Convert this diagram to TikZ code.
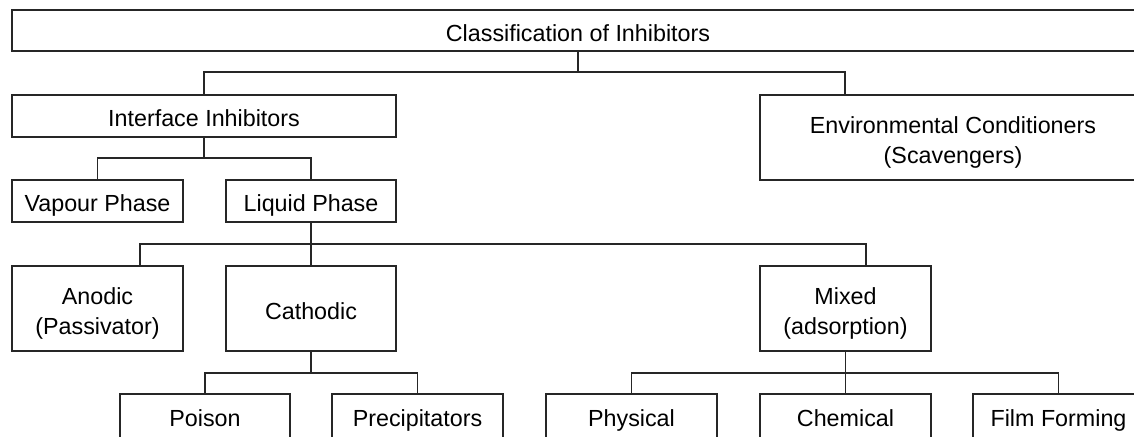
\documentclass[tikz,border=0pt]{standalone}
\usepackage{fontspec}
\setmainfont{Liberation Sans}
\begin{document}
\begin{tikzpicture}[x=1pt,y=-1pt,
  box/.style={draw=black!85,line width=1.5pt,rectangle,inner sep=0pt,align=center,
    text height=21.5pt,text depth=0pt,
    font=\fontsize{23.3}{30}\selectfont},
  twobox/.style={box,text height=51pt,minimum height=85},
  lowbox/.style={box,text depth=10pt,minimum height=52.5},
  conn/.style={draw=black!85,line width=1.4pt}]
\useasboundingbox (0,0) rectangle (1134,436);
% boxes
\node[box,minimum width=1132,minimum height=41] (title) at (578,30.5) {Classification of Inhibitors};
\node[box,minimum width=384,minimum height=42] (iface) at (204,116) {Interface Inhibitors};
\node[twobox,minimum width=386] (env) at (953,137.5) {Environmental Conditioners\\(Scavengers)};
\node[box,minimum width=171,minimum height=42] (vap) at (97.5,201) {Vapour Phase};
\node[box,minimum width=170,minimum height=42] (liq) at (311,201) {Liquid Phase};
\node[twobox,minimum width=171] (anod) at (97.5,308.5) {Anodic\\(Passivator)};
\node[box,minimum width=170,minimum height=85] (cath) at (311,308.5) {Cathodic};
\node[twobox,minimum width=171] (mix) at (845.5,308.5) {Mixed\\(adsorption)};
\node[lowbox,minimum width=170] (pois) at (205,420.25) {Poison};
\node[lowbox,minimum width=171] (prec) at (417.5,420.25) {Precipitators};
\node[lowbox,minimum width=171] (phys) at (631.5,420.25) {Physical};
\node[lowbox,minimum width=171] (chem) at (845.5,420.25) {Chemical};
\node[lowbox,minimum width=171] (film) at (1058.5,420.25) {Film Forming};
% bus coordinates
\coordinate (bus1) at (0,72);
\coordinate (bus2) at (0,158);
\coordinate (bus3) at (0,244);
\coordinate (bus4) at (0,373);
\coordinate (envin) at (845,95);
\coordinate (anin) at (140,266);
\coordinate (mixin) at (866,266);
% connectors
\draw[conn] (title.south) -- (title.south |- bus1);
\draw[conn] (iface.north) -- (iface.north |- bus1) -- (envin |- bus1) -- (envin);
\draw[conn] (iface.south) -- (iface.south |- bus2);
\draw[conn] (vap.north) -- (vap.north |- bus2) -- (liq.north |- bus2) -- (liq.north);
\draw[conn] (liq.south) -- (cath.north);
\draw[conn] (anin) -- (anin |- bus3) -- (mixin |- bus3) -- (mixin);
\draw[conn] (cath.south) -- (cath.south |- bus4);
\draw[conn] (pois.north) -- (pois.north |- bus4) -- (prec.north |- bus4) -- (prec.north);
\draw[conn] (mix.south) -- (chem.north);
\draw[conn] (phys.north) -- (phys.north |- bus4) -- (film.north |- bus4) -- (film.north);
\end{tikzpicture}
\end{document}
